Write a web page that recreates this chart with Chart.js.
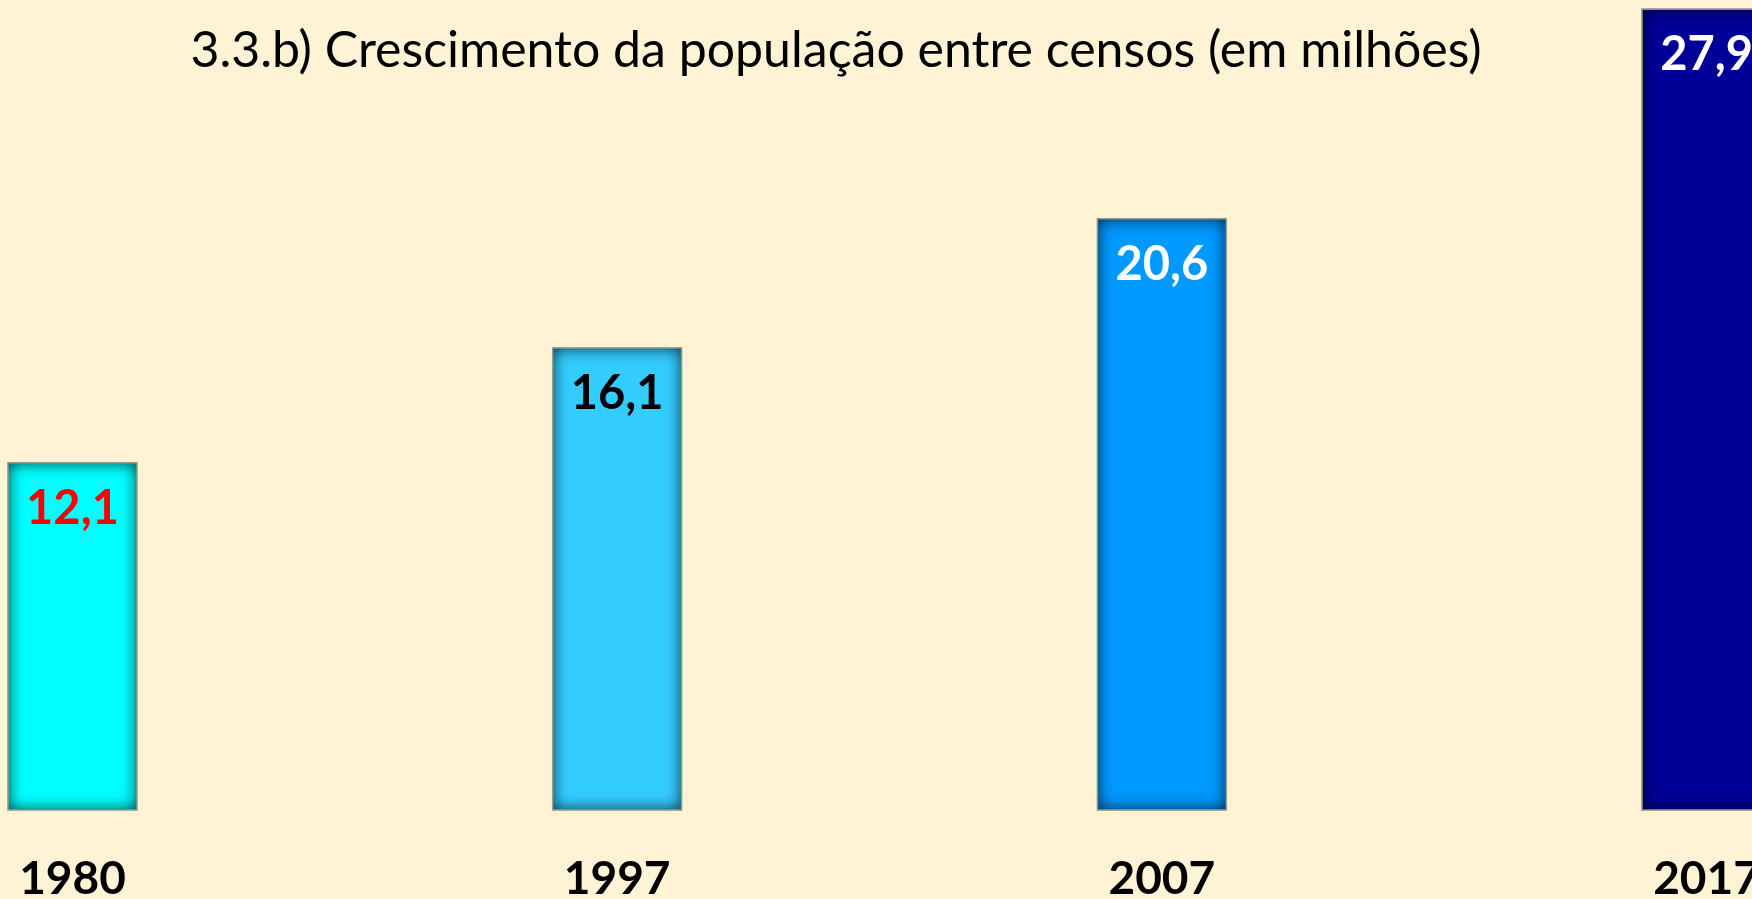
<!DOCTYPE html>
<html>
<head>
<meta charset="utf-8">
<script src="https://cdn.jsdelivr.net/npm/chart.js@4.4.1/dist/chart.umd.min.js"></script>
<style>
  html, body { margin: 0; padding: 0; background: #fff3d6; overflow: hidden; }
  #wrap { width: 1752px; height: 899px; }
</style>
</head>
<body>
<div id="wrap"><canvas id="grafico"></canvas></div>
<script>
const titulo = '3.3.b) Crescimento da população entre censos (em milhões)';
const anos = ['1980', '1997', '2007', '2017'];
const populacao = [12.1, 16.1, 20.6, 27.9];
const coresBarras = ['#00ffff', '#33ccff', '#0099ff', '#000099'];
const coresRotulos = ['#ff0000', '#000000', '#ffffff', '#ffffff'];

const fonte = 'Lato, "Open Sans", sans-serif';

// sombra interna das barras
const sombraInterna = {
  id: 'sombraInterna',
  afterDatasetsDraw(chart) {
    const ctx = chart.ctx;
    chart.getDatasetMeta(0).data.forEach((bar) => {
      const w = bar.width;
      const x0 = bar.x - w / 2, y0 = bar.y, h = bar.base - bar.y;
      ctx.save();
      ctx.beginPath();
      ctx.rect(x0, y0, w, h);
      ctx.clip();
      ctx.beginPath();
      ctx.rect(x0 - 60, y0 - 60, w + 120, h + 120);
      ctx.rect(x0, y0, w, h);
      ctx.shadowColor = 'rgba(0,0,0,0.8)';
      ctx.shadowBlur = 16;
      ctx.fillStyle = '#000';
      ctx.fill('evenodd');
      ctx.restore();
      ctx.save();
      ctx.strokeStyle = '#9c9a86';
      ctx.lineWidth = 1.5;
      ctx.strokeRect(x0, y0, w, h);
      ctx.restore();
    });
  }
};

// rotulos de valor dentro das barras
const rotulos = {
  id: 'rotulos',
  afterDatasetsDraw(chart) {
    const ctx = chart.ctx;
    ctx.save();
    ctx.font = 'bold 47px ' + fonte;
    ctx.textAlign = 'center';
    ctx.textBaseline = 'middle';
    chart.getDatasetMeta(0).data.forEach((bar, i) => {
      ctx.fillStyle = coresRotulos[i];
      ctx.fillText(populacao[i].toFixed(1).replace('.', ','), bar.x, bar.y + 46);
    });
    ctx.restore();
  }
};

const tituloPlugin = {
  id: 'tituloPlugin',
  afterDraw(chart) {
    const ctx = chart.ctx;
    ctx.save();
    ctx.font = '50px ' + fonte;
    ctx.fillStyle = '#000';
    ctx.textAlign = 'center';
    ctx.textBaseline = 'alphabetic';
    ctx.fillText(titulo, 836, 67);
    ctx.restore();
  }
};

new Chart(document.getElementById('grafico'), {
  type: 'bar',
  data: {
    datasets: [{
      data: populacao.map((v, i) => ({ x: i, y: v })),
      backgroundColor: coresBarras,
      borderWidth: 0,
      barThickness: 129,
      clip: false
    }]
  },
  plugins: [sombraInterna, rotulos, tituloPlugin],
  options: {
    animation: false,
    responsive: true,
    maintainAspectRatio: false,
    layout: { padding: 0 },
    plugins: {
      legend: { display: false },
      tooltip: { enabled: false },
      title: { display: false }
    },
    scales: {
      x: {
        type: 'linear',
        offset: false,
        min: -0.1331,
        max: 3.0835,
        grid: { display: false, drawTicks: false },
        border: { display: false },
        afterFit(scale) {
          scale.height = 89;
          scale.paddingLeft = 0;
          scale.paddingRight = 0;
        },
        ticks: {
          stepSize: 1,
          includeBounds: false,
          autoSkip: false,
          maxRotation: 0,
          padding: 42,
          color: '#000',
          font: { family: fonte, size: 46, weight: 'bold' },
          callback: (value) => anos[value] ?? ''
        }
      },
      y: {
        display: false,
        min: 0,
        max: 28.22
      }
    }
  }
});
</script>
</body>
</html>
